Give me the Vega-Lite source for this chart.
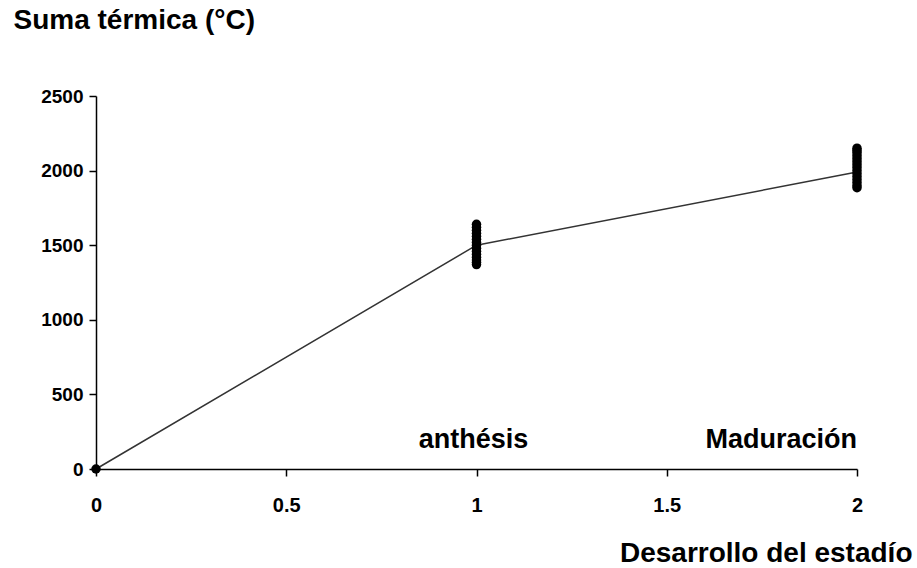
{
  "$schema": "https://vega.github.io/schema/vega-lite/v6.json",
  "width": 761,
  "height": 373,
  "autosize": "none",
  "padding": {"left": 96, "top": 96, "right": 60, "bottom": 99},
  "background": "white",
  "config": {
    "view": {"stroke": null},
    "font": "Liberation Sans"
  },
  "datasets": {
    "obs": [
      {"x": 0, "y": 0},
      {"x": 1, "y": 1370}, {"x": 1, "y": 1385}, {"x": 1, "y": 1400}, {"x": 1, "y": 1420},
      {"x": 1, "y": 1440}, {"x": 1, "y": 1460}, {"x": 1, "y": 1480}, {"x": 1, "y": 1500},
      {"x": 1, "y": 1520}, {"x": 1, "y": 1540}, {"x": 1, "y": 1560}, {"x": 1, "y": 1580},
      {"x": 1, "y": 1600}, {"x": 1, "y": 1620}, {"x": 1, "y": 1640},
      {"x": 2, "y": 1885}, {"x": 2, "y": 1900}, {"x": 2, "y": 1920}, {"x": 2, "y": 1940},
      {"x": 2, "y": 1960}, {"x": 2, "y": 1980}, {"x": 2, "y": 2000}, {"x": 2, "y": 2020},
      {"x": 2, "y": 2040}, {"x": 2, "y": 2060}, {"x": 2, "y": 2080}, {"x": 2, "y": 2100},
      {"x": 2, "y": 2120}, {"x": 2, "y": 2135}, {"x": 2, "y": 2150}
    ],
    "fit": [
      {"x": 0, "y": 0},
      {"x": 1, "y": 1500},
      {"x": 2, "y": 1990}
    ],
    "labels": [
      {"x": 0.992, "y": 141, "label": "anthésis"},
      {"x": 2, "y": 141, "label": "Maduración"}
    ]
  },
  "layer": [
    {
      "data": {"name": "fit"},
      "mark": {"type": "line", "color": "#333333", "strokeWidth": 1.5},
      "encoding": {
        "x": {
          "field": "x", "type": "quantitative",
          "scale": {"domain": [0, 2], "nice": false, "zero": true},
          "axis": {
            "values": [0, 0.5, 1, 1.5, 2],
            "format": "~g",
            "grid": false,
            "labelFlush": false,
            "labelOverlap": false,
            "domainColor": "black", "domainWidth": 1.5,
            "tickColor": "black", "tickWidth": 1.5, "tickSize": 7,
            "labelFont": "Liberation Sans", "labelFontWeight": "bold", "labelFontSize": 20,
            "labelColor": "black", "labelPadding": 19,
            "title": "Desarrollo del estadío",
            "titleFont": "Liberation Sans", "titleFontWeight": "bold", "titleFontSize": 28,
            "titleColor": "black",
            "titleAlign": "right", "titleAnchor": null, "titleBaseline": "alphabetic",
            "titleX": 816, "titleY": 92
          }
        },
        "y": {
          "field": "y", "type": "quantitative",
          "scale": {"domain": [0, 2500], "nice": false},
          "axis": {
            "values": [0, 500, 1000, 1500, 2000, 2500],
            "format": "d",
            "grid": false,
            "labelFlush": false,
            "labelOverlap": false,
            "domainColor": "black", "domainWidth": 1.5,
            "tickColor": "black", "tickWidth": 1.5, "tickSize": 7,
            "labelFont": "Liberation Sans", "labelFontWeight": "bold", "labelFontSize": 19,
            "labelColor": "black", "labelPadding": 6,
            "title": "Suma térmica (°C)",
            "titleFont": "Liberation Sans", "titleFontWeight": "bold", "titleFontSize": 28,
            "titleColor": "black",
            "titleAngle": 0, "titleAlign": "left", "titleAnchor": null, "titleBaseline": "alphabetic",
            "titleX": -83, "titleY": -68
          }
        }
      }
    },
    {
      "data": {"name": "obs"},
      "mark": {"type": "circle", "color": "black", "size": 90, "opacity": 1, "clip": false},
      "encoding": {
        "x": {"field": "x", "type": "quantitative"},
        "y": {"field": "y", "type": "quantitative"}
      }
    },
    {
      "data": {"name": "labels"},
      "transform": [{"filter": "datum.label == 'anthésis'"}],
      "mark": {"type": "text", "font": "Liberation Sans", "fontWeight": "bold", "fontSize": 27, "color": "black", "baseline": "alphabetic", "align": "center"},
      "encoding": {
        "x": {"field": "x", "type": "quantitative"},
        "y": {"field": "y", "type": "quantitative"},
        "text": {"field": "label"}
      }
    },
    {
      "data": {"name": "labels"},
      "transform": [{"filter": "datum.label == 'Maduración'"}],
      "mark": {"type": "text", "font": "Liberation Sans", "fontWeight": "bold", "fontSize": 27, "color": "black", "baseline": "alphabetic", "align": "right"},
      "encoding": {
        "x": {"field": "x", "type": "quantitative"},
        "y": {"field": "y", "type": "quantitative"},
        "text": {"field": "label"}
      }
    }
  ]
}
